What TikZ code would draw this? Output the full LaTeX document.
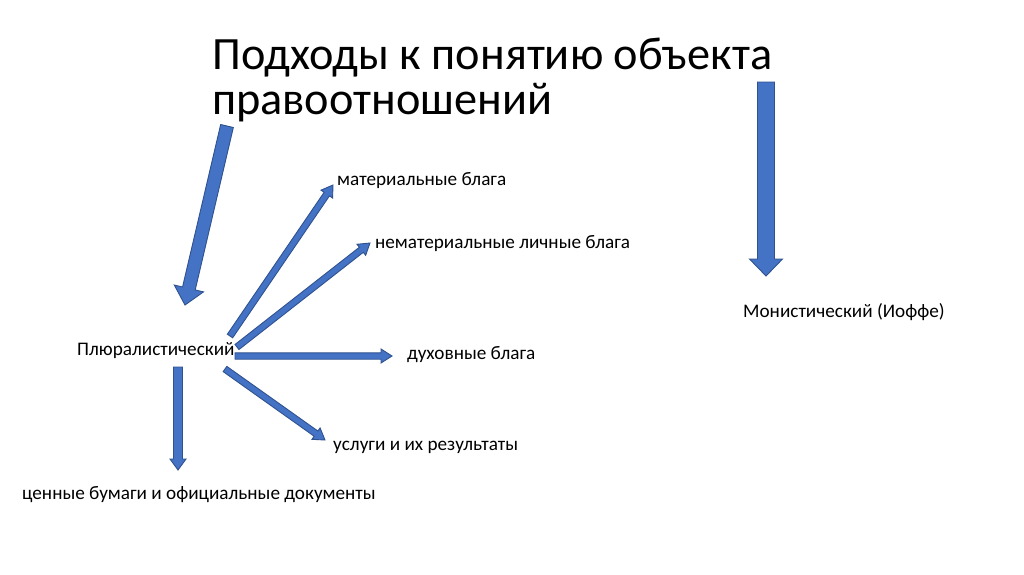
\documentclass[tikz,border=0pt]{standalone}
\usepackage{fontspec}
\setmainfont{Carlito}
\usetikzlibrary{calc}
\definecolor{arrfill}{HTML}{4472C4}
\definecolor{arrline}{HTML}{2F528F}
\tikzset{
  blockarr/.style={fill=arrfill, draw=arrline, line width=0.9pt, line join=miter},
  lbl/.style={anchor=base west, inner sep=0pt, font=\fontsize{19.2}{23}\selectfont},
  ttl/.style={anchor=base west, inner sep=0pt, align=left, font=\fontsize{46.3}{45}\selectfont}
}
\newcommand\blockarrow[5]{%
  \coordinate (ba-h) at ($(#2)!#5!(#1)$);
  \filldraw[blockarr] ($(#1)!#3!90:(#2)$) -- ($(ba-h)!#3!90:(#2)$) -- ($(ba-h)!#4!90:(#2)$) -- (#2) -- ($(ba-h)!#4!-90:(#2)$) -- ($(ba-h)!#3!-90:(#2)$) -- ($(#1)!#3!-90:(#2)$) -- cycle;
}
\begin{document}
\begin{tikzpicture}[x=1pt,y=-1pt]
\useasboundingbox[fill=white] (0,0) rectangle (1024,574);
% texts
\node[ttl] (title) at (212,114) {Подходы к понятию объекта\\правоотношений};
\node[lbl] (plur) at (77,355) {Плюралистический};
\node[lbl] (mon) at (743,317) {Монистический (Иоффе)};
\node[lbl] (mat) at (337,185) {материальные блага};
\node[lbl] (nemat) at (375,248) {нематериальные личные блага};
\node[lbl] (duh) at (407,359) {духовные блага};
\node[lbl] (usl) at (333,450) {услуги и их результаты};
\node[lbl] (cen) at (22,499) {ценные бумаги и официальные документы};
% arrow end points
\coordinate (tA) at (227,126);
\coordinate (tB) at (185,305);
\coordinate (mA) at (766,82);
\coordinate (mB) at (766,276);
\coordinate (p1) at (230,336);
\coordinate (e1) at (333,185);
\coordinate (p2) at (237,347);
\coordinate (e2) at (370,243);
\coordinate (p3) at (235,356);
\coordinate (e3) at (392,356);
\coordinate (p4) at (225,369);
\coordinate (e4) at (325,440);
\coordinate (p5) at (178,367);
\coordinate (e5) at (178,470);
% block arrows
\blockarrow{tA}{tB}{6.5pt}{15pt}{17pt}
\blockarrow{mA}{mB}{8.5pt}{16.5pt}{17pt}
\blockarrow{p1}{e1}{3.2pt}{7pt}{11pt}
\blockarrow{p2}{e2}{3.2pt}{7pt}{11pt}
\blockarrow{p3}{e3}{3.2pt}{7pt}{11pt}
\blockarrow{p4}{e4}{3.2pt}{7pt}{11pt}
\blockarrow{p5}{e5}{4.5pt}{8pt}{11pt}
\end{tikzpicture}
\end{document}
